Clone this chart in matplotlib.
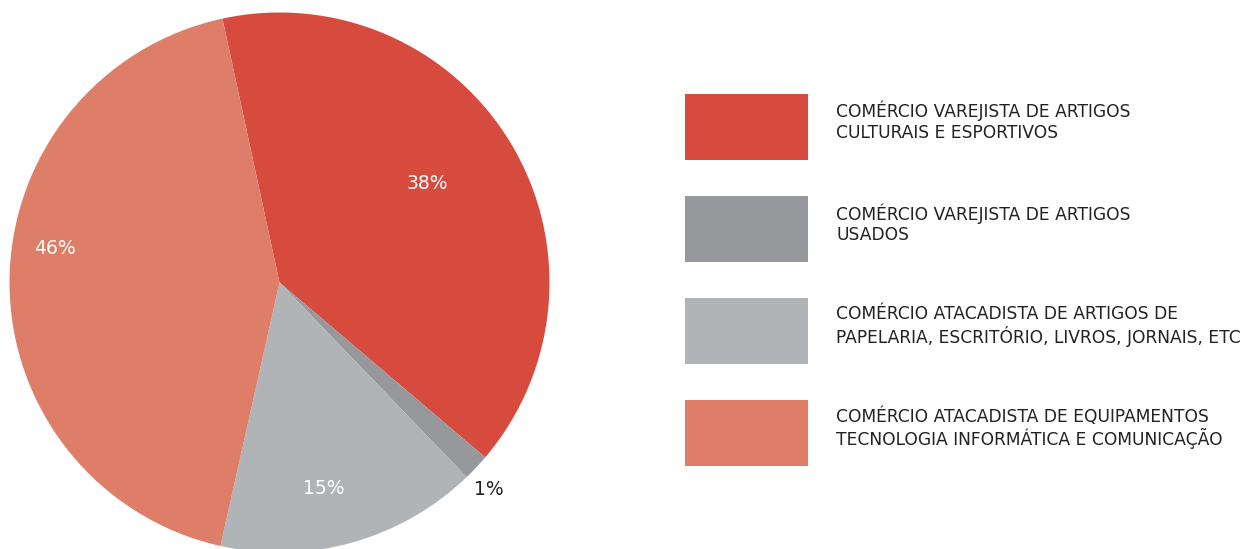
import numpy as np
import matplotlib.pyplot as plt
from matplotlib.patches import Rectangle

# Slice shares as drawn and the printed labels
categories = [
    'COMÉRCIO VAREJISTA DE ARTIGOS\nCULTURAIS E ESPORTIVOS',
    'COMÉRCIO VAREJISTA DE ARTIGOS\nUSADOS',
    'COMÉRCIO ATACADISTA DE ARTIGOS DE\nPAPELARIA, ESCRITÓRIO, LIVROS, JORNAIS, ETC',
    'COMÉRCIO ATACADISTA DE EQUIPAMENTOS\nTECNOLOGIA INFORMÁTICA E COMUNICAÇÃO',
]
shares = [39.6, 1.6, 15.7, 43.1]
pct_labels = ['38%', '1%', '15%', '46%']
colors = ['#D64B3D', '#97989C', '#B1B4B7', '#DE7E69']
label_colors = ['white', '#222222', 'white', 'white']
label_r = [0.66, 1.09, 0.78, 0.84]
label_nudge = [3, -1.5, -3.5, -8.5]   # degrees

plt.rcParams['font.family'] = ['DejaVu Sans']

W, H = 1242, 549
fig = plt.figure(figsize=(W / 100, H / 100), dpi=100)

# pie axes: centre (279, 282) px, radius 270 px
cx, cy, r = 279.5, 282.5, 270
ax = fig.add_axes([(cx - r) / W, (H - cy - r) / H, 2 * r / W, 2 * r / H])
wedges, _ = ax.pie(shares, colors=colors, startangle=102.2, counterclock=False,
                   radius=1, wedgeprops=dict(linewidth=0))
ax.set_xlim(-1, 1)
ax.set_ylim(-1, 1)
ax.set_aspect('equal')
ax.axis('off')

for w, lab, lc, lr, nd in zip(wedges, pct_labels, label_colors, label_r, label_nudge):
    ang = np.deg2rad((w.theta1 + w.theta2) / 2 + nd)
    ax.text(lr * np.cos(ang), lr * np.sin(ang), lab, color=lc, fontsize=13.5,
            ha='center', va='center')

# legend boxes
box_x, box_w, box_h, box_top, box_step = 685, 123, 66, 94, 102
for i, (cat, col) in enumerate(zip(categories, colors)):
    top = box_top + i * box_step
    fig.add_artist(Rectangle((box_x / W, (H - top - box_h) / H), box_w / W, box_h / H,
                             transform=fig.transFigure, color=col, lw=0))
    fig.text(836 / W, (H - top - 7) / H, cat, fontsize=12.3, color='#222222',
             ha='left', va='top', linespacing=1.15)

fig.savefig('out.png', dpi=100)
